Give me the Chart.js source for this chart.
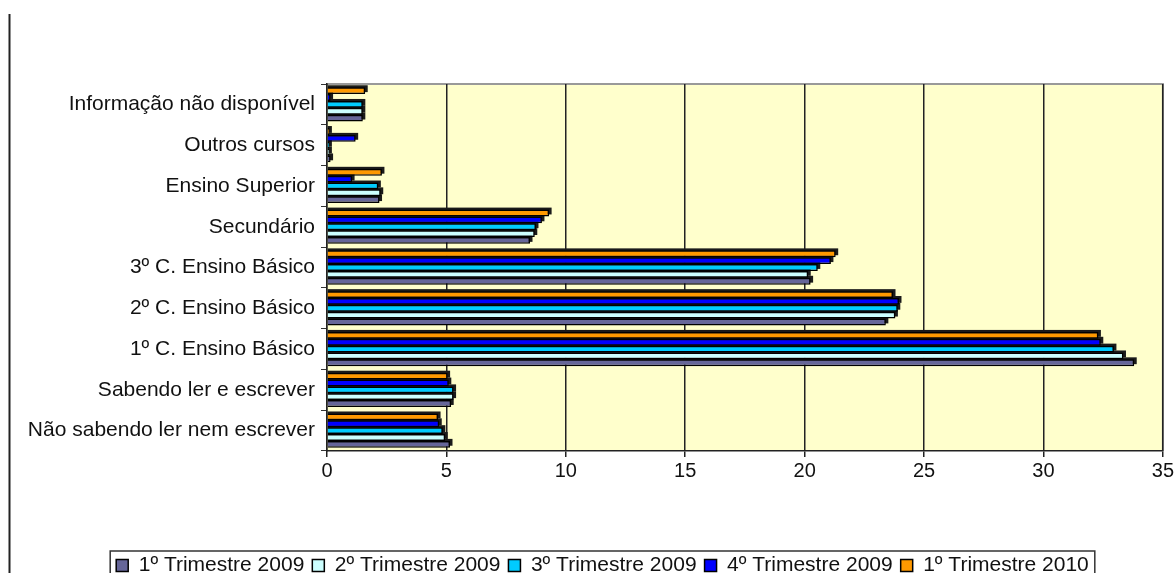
<!DOCTYPE html>
<html>
<head>
<meta charset="utf-8">
<script src="https://cdn.jsdelivr.net/npm/chart.js@4.4.1/dist/chart.umd.min.js"></script>
<style>
  html, body { margin: 0; padding: 0; background: #fff; overflow: hidden; }
  #wrap { width: 1176px; height: 586px; }
</style>
</head>
<body>
<div id="wrap"><canvas id="grafico" width="1176" height="586"></canvas></div>
<script>
// categorias de cima para baixo
const categorias = [
  "Informação não disponível",
  "Outros cursos",
  "Ensino Superior",
  "Secundário",
  "3º C. Ensino Básico",
  "2º C. Ensino Básico",
  "1º C. Ensino Básico",
  "Sabendo ler e escrever",
  "Não sabendo ler nem escrever",
];

const tri1_2009 = [1.5, 0.15, 2.2, 8.5, 20.25, 23.4, 33.8, 5.2, 5.15];
const tri2_2009 = [1.5, 0.1, 2.25, 8.7, 20.15, 23.8, 33.35, 5.3, 4.95];
const tri3_2009 = [1.5, 0.1, 2.15, 8.75, 20.55, 23.9, 32.95, 5.3, 4.85];
const tri4_2009 = [0.15, 1.2, 1.05, 9.0, 21.1, 23.95, 32.4, 5.1, 4.7];
const tri1_2010 = [1.6, 0.1, 2.3, 9.3, 21.3, 23.7, 32.3, 5.05, 4.65];

const nomesSeries = [
  "1º Trimestre 2009",
  "2º Trimestre 2009",
  "3º Trimestre 2009",
  "4º Trimestre 2009",
  "1º Trimestre 2010",
];
const ticksX = [0, 5, 10, 15, 20, 25, 30, 35];

const cores = ["#666699", "#CCFFFF", "#00CCFF", "#0000FF", "#FF9900"];
const valores = [tri1_2009, tri2_2009, tri3_2009, tri4_2009, tri1_2010];

const fonte = "'Liberation Sans', Arial, sans-serif";
const desvioLegenda = 20;

// a serie mais recente fica em cima dentro de cada grupo; a legenda volta a ordem
const datasets = valores
  .map((v, i) => ({
    label: nomesSeries[i],
    data: v,
    backgroundColor: cores[i],
    borderColor: "#000",
    borderWidth: 1.5,
    categoryPercentage: 0.84,
    barPercentage: 1.0,
  }))
  .reverse();

const extras = {
  id: "extras",
  // legenda um pouco deslocada para a direita, como no original
  afterLayout(chart) {
    chart.legend.left += desvioLegenda;
    chart.legend.right += desvioLegenda;
  },
  beforeDraw(chart) {
    const { ctx, chartArea: a } = chart;
    ctx.save();
    ctx.fillStyle = "#FFFFCC";
    ctx.fillRect(a.left, a.top, a.right - a.left, a.bottom - a.top);
    ctx.strokeStyle = "#999999";
    ctx.lineWidth = 2;
    ctx.beginPath();
    ctx.moveTo(a.left, a.top);
    ctx.lineTo(a.right, a.top);
    ctx.lineTo(a.right, a.bottom);
    ctx.stroke();
    ctx.strokeStyle = "#222";
    ctx.lineWidth = 2;
    ctx.beginPath();
    ctx.moveTo(9.5, 14);
    ctx.lineTo(9.5, 590);
    ctx.stroke();
    ctx.restore();
  },
  // sombra escura das barras (efeito 3D)
  beforeDatasetsDraw(chart) {
    const { ctx } = chart;
    ctx.save();
    ctx.fillStyle = "#1a1a1a";
    chart.data.datasets.forEach((d, i) => {
      chart.getDatasetMeta(i).data.forEach((bar) => {
        const p = bar.getProps(["x", "y", "base", "height"], true);
        ctx.fillRect(p.base, p.y - p.height / 2 - 2, p.x - p.base + 2.5, p.height);
      });
    });
    ctx.restore();
  },
  afterDraw(chart) {
    const boxes = chart.legend.legendHitBoxes;
    if (!boxes || !boxes.length) return;
    const { ctx } = chart;
    const left = Math.min(...boxes.map((b) => b.left)) - 6;
    const right = Math.max(...boxes.map((b) => b.left + b.width)) + 6;
    const top = boxes[0].top - 4;
    ctx.save();
    ctx.strokeStyle = "#333";
    ctx.lineWidth = 1.5;
    ctx.strokeRect(left, top, right - left, 40);
    ctx.restore();
  },
};

new Chart(document.getElementById("grafico").getContext("2d"), {
  type: "bar",
  data: { labels: categorias, datasets },
  options: {
    indexAxis: "y",
    responsive: false,
    animation: false,
    layout: { padding: { top: 84, left: 0, right: 11, bottom: 0 } },
    scales: {
      x: {
        min: 0,
        max: 35,
        afterBuildTicks: (s) => {
          s.ticks = ticksX.map((v) => ({ value: v }));
        },
        afterFit: (s) => {
          s.height = 96;
        },
        ticks: {
          color: "#111",
          font: { family: fonte, size: 20 },
          padding: 2,
        },
        grid: {
          color: "#222",
          lineWidth: 1.5,
          tickLength: 6,
          tickColor: "#222",
        },
        border: { display: true, color: "#222", width: 1.5 },
      },
      y: {
        afterFit: (s) => {
          s.width = 327;
        },
        ticks: {
          color: "#111",
          font: { family: fonte, size: 21 },
          padding: 6,
        },
        grid: {
          offset: true,
          drawOnChartArea: false,
          tickLength: 6,
          tickColor: "#333",
        },
        border: { display: true, color: "#222", width: 1.5 },
      },
    },
    plugins: {
      legend: {
        position: "bottom",
        reverse: true,
        labels: {
          color: "#111",
          font: { family: fonte, size: 21 },
          boxWidth: 12,
          boxHeight: 12,
          padding: 8,
        },
      },
      tooltip: { enabled: false },
    },
  },
  plugins: [extras],
});
</script>
</body>
</html>
